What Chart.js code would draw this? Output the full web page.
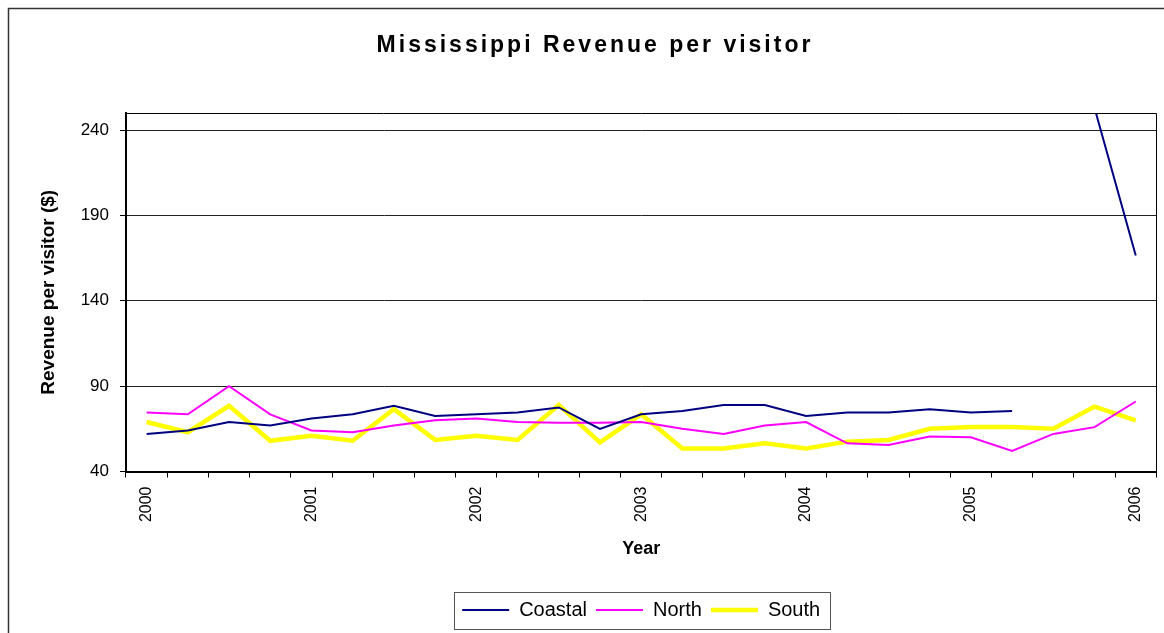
<!DOCTYPE html>
<html>
<head>
<meta charset="utf-8">
<title>Mississippi Revenue per visitor</title>
<script src="https://cdn.jsdelivr.net/npm/chart.js@4/dist/chart.umd.min.js"></script>
<style>
    html, body { margin: 0; padding: 0; background: #fff; }
    #wrap { position: relative; width: 1164px; height: 633px; }
</style>
</head>
<body>
<div id="wrap"><canvas id="revenueChart"></canvas></div>
<script>
// Quarterly figures, 2000 Q1 through 2006 Q1
const years = ['2000', '2001', '2002', '2003', '2004', '2005', '2006'];
const quarters = ['Q1', 'Q2', 'Q3', 'Q4'];

const coastal = [62, 64, 69, 67, 71, 73.5, 78.5, 72.5, 73.5, 74.5, 77.5, 65, 73.5,
    75.5, 79, 79, 72.5, 74.5, 74.5, 76.5, 74.5, 75.5, null, 253, 166.5];
const north = [74.5, 73.5, 90, 73.5, 64, 63, 67, 70, 71, 69, 68.5, 68.5, 69,
    65, 62, 67, 69, 56.5, 55.5, 60.5, 60, 52, 62, 66, 81];
const south = [69, 63, 78.5, 58, 61, 58, 76.5, 58.5, 61, 58.5, 79, 57, 73.5,
    53.5, 53.5, 56.5, 53.5, 57.5, 58.5, 65, 66, 66, 65, 78, 70];

const yTicks = [40, 90, 140, 190, 240];
const chartTitle = 'Mississippi Revenue per visitor';

// one label per quarter; only the first quarter of each year gets printed
const labels = [];
years.forEach((y, i) => {
    quarters.forEach((q, j) => {
        if (i < years.length - 1 || j === 0) labels.push(y + ' ' + q);
    });
});

// frame, plot box, spaced title and legend border
const chartDecor = {
    id: 'chartDecor',
    beforeDraw(chart) {
        const ctx = chart.ctx;
        ctx.save();
        ctx.fillStyle = '#fff';
        ctx.fillRect(0, 0, chart.width, chart.height);
        ctx.restore();
    },
    afterDraw(chart) {
        const ctx = chart.ctx;
        const area = chart.chartArea;
        ctx.save();

        // outer frame
        ctx.strokeStyle = '#333';
        ctx.lineWidth = 1.5;
        ctx.beginPath();
        ctx.moveTo(8.5, chart.height + 2);
        ctx.lineTo(8.5, 8.5);
        ctx.lineTo(chart.width + 2, 8.5);
        ctx.stroke();

        // top and right edges of the plot box
        ctx.strokeStyle = '#000';
        ctx.lineWidth = 1;
        ctx.beginPath();
        ctx.moveTo(area.left, Math.round(area.top) + 0.5);
        ctx.lineTo(Math.round(area.right) + 0.5, Math.round(area.top) + 0.5);
        ctx.lineTo(Math.round(area.right) + 0.5, area.bottom);
        ctx.stroke();

        // title
        ctx.fillStyle = '#000';
        ctx.font = 'bold 23px Arial, "Liberation Sans", sans-serif';
        ctx.textAlign = 'center';
        ctx.textBaseline = 'alphabetic';
        if ('letterSpacing' in ctx) ctx.letterSpacing = '3px';
        ctx.fillText(chartTitle, 595, 52);
        if ('letterSpacing' in ctx) ctx.letterSpacing = '0px';

        // legend border
        const boxes = chart.legend.legendHitBoxes;
        if (boxes && boxes.length) {
            const first = boxes[0];
            const last = boxes[boxes.length - 1];
            const cy = first.top + first.height / 2;
            ctx.strokeStyle = '#555';
            ctx.lineWidth = 1;
            ctx.strokeRect(Math.round(first.left - 8) + 0.5, Math.round(cy - 18) + 0.5,
                Math.round(last.left + last.width + 10 - (first.left - 8)), 37);
        }
        ctx.restore();
    }
};

const ctx = document.getElementById('revenueChart');
new Chart(ctx, {
    type: 'line',
    data: {
        labels: labels,
        datasets: [{
            label: 'Coastal',
            data: coastal,
            borderColor: '#000080',
            backgroundColor: '#000080',
            borderWidth: 2
        }, {
            label: 'North',
            data: north,
            borderColor: '#ff00ff',
            backgroundColor: '#ff00ff',
            borderWidth: 2
        }, {
            label: 'South',
            data: south,
            borderColor: '#ffff00',
            backgroundColor: '#ffff00',
            borderWidth: 4.5
        }]
    },
    options: {
        responsive: true,
        maintainAspectRatio: false,
        animation: false,
        elements: {
            point: { radius: 0, hoverRadius: 0 },
            line: { tension: 0 }
        },
        layout: {
            padding: { top: 113, left: 8, right: 3, bottom: 3 }
        },
        plugins: {
            title: { display: false },
            tooltip: { enabled: false },
            legend: {
                position: 'bottom',
                fullSize: false,
                labels: {
                    usePointStyle: true,
                    pointStyle: 'line',
                    pointStyleWidth: 47,
                    padding: 9,
                    color: '#000',
                    font: { family: 'Arial, "Liberation Sans", sans-serif', size: 20 }
                }
            }
        },
        scales: {
            x: {
                type: 'category',
                offset: true,
                grid: {
                    offset: true,
                    drawOnChartArea: false,
                    drawTicks: true,
                    tickLength: 6,
                    tickColor: '#000'
                },
                border: { color: '#000', width: 2 },
                ticks: {
                    autoSkip: false,
                    maxRotation: 90,
                    minRotation: 90,
                    padding: 9,
                    color: '#000',
                    font: { family: 'Arial, "Liberation Sans", sans-serif', size: 16 },
                    callback: function(value, index) {
                        return index % 4 === 0 ? years[index / 4] : '';
                    }
                },
                title: {
                    display: true,
                    text: 'Year',
                    color: '#000',
                    font: { family: 'Arial, "Liberation Sans", sans-serif', size: 18, weight: 'bold' },
                    padding: { top: 4, bottom: 31 }
                },
                afterFit: function(axis) {
                    axis.height = 119.5;
                }
            },
            y: {
                min: 40,
                max: 250,
                grid: {
                    color: '#222',
                    lineWidth: 1,
                    tickLength: 6,
                    tickColor: '#000'
                },
                border: { color: '#000', width: 2 },
                ticks: {
                    padding: 11,
                    color: '#000',
                    font: { family: 'Arial, "Liberation Sans", sans-serif', size: 17 }
                },
                afterBuildTicks: function(axis) {
                    axis.ticks = yTicks.map(v => ({ value: v }));
                },
                title: {
                    display: true,
                    text: 'Revenue per visitor ($)',
                    color: '#000',
                    font: { family: 'Arial, "Liberation Sans", sans-serif', size: 19, weight: 'bold' },
                    padding: { top: 29, bottom: 0 }
                },
                afterFit: function(axis) {
                    axis.width = 118;
                }
            }
        }
    },
    plugins: [chartDecor]
});
</script>
</body>
</html>
